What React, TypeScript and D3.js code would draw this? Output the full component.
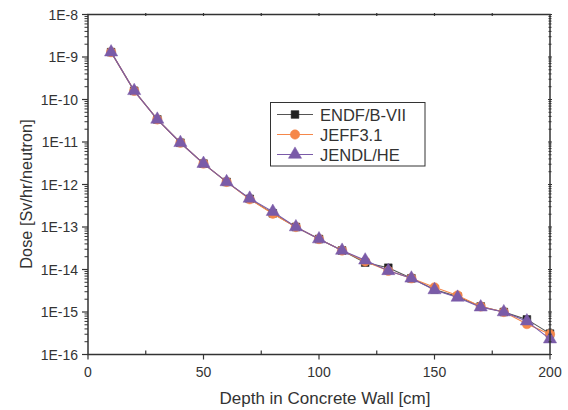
import React from 'react'
import { scaleLinear, scaleLog, line, symbol, symbolSquare, symbolCircle, symbolTriangle, range } from 'd3'

const depths = [10, 20, 30, 40, 50, 60, 70, 80, 90, 100, 110, 120, 130, 140, 150, 160, 170, 180, 190, 200]
const endf = [1.3e-9, 1.6e-10, 3.4e-11, 9.6e-12, 3.1e-12, 1.15e-12, 4.6e-13, 2.1e-13, 1.0e-13, 5.2e-14, 2.8e-14, 1.45e-14, 1.1e-14, 6.2e-15, 3.4e-15, 2.3e-15, 1.35e-15, 1.0e-15, 6.7e-16, 3.1e-16]
const jeff = [1.3e-9, 1.6e-10, 3.4e-11, 9.6e-12, 3.1e-12, 1.15e-12, 4.5e-13, 2.05e-13, 1.0e-13, 5.2e-14, 2.8e-14, 1.55e-14, 9.3e-15, 6.2e-15, 3.8e-15, 2.45e-15, 1.35e-15, 1.0e-15, 5.2e-16, 3.0e-16]
const jendl = [1.3e-9, 1.6e-10, 3.4e-11, 9.6e-12, 3.1e-12, 1.15e-12, 4.7e-13, 2.3e-13, 1.0e-13, 5.2e-14, 2.8e-14, 1.65e-14, 9.3e-15, 6.2e-15, 3.3e-15, 2.2e-15, 1.3e-15, 1.0e-15, 6.1e-16, 2.3e-16]

const xTicks = [0, 50, 100, 150, 200]
const yExponents = [-8, -9, -10, -11, -12, -13, -14, -15, -16]

const series = [
  { name: 'ENDF/B-VII', values: endf, line: '#555', fill: '#222', shape: symbolSquare, size: 60 },
  { name: 'JEFF3.1', values: jeff, line: '#f5874a', fill: '#f5874a', shape: symbolCircle, size: 70 },
  { name: 'JENDL/HE', values: jendl, line: '#7a5ba8', fill: '#7a5ba8', shape: symbolTriangle, size: 75 },
]

const font = 'Liberation Sans, Arial, Helvetica, sans-serif'
const axisColor = '#333'

export default function App() {
  const left = 88
  const right = 550
  const top = 14.5
  const bottom = 354.5
  const x = scaleLinear().domain([0, 200]).range([left, right])
  const y = scaleLog().domain([1e-16, 1e-8]).range([bottom, top])

  const minorY: number[] = []
  for (let e = -16; e < -8; e++) {
    for (let m = 2; m <= 9; m++) minorY.push(m * Math.pow(10, e))
  }
  const minorX = range(25, 200, 50)
  const topTicks = range(25, 200, 25)

  return (
    <svg width={568} height={410} style={{ position: 'absolute', left: 0, top: 0, background: '#fff' }}>
      <g fontFamily={font} fill="#333">
        {/* data */}
        {series.map(s => {
          const path = line<number>()
            .x((_, i) => x(depths[i]))
            .y(d => y(d))(s.values)
          return (
            <g key={s.name}>
              <path d={path || ''} fill="none" stroke={s.line} strokeWidth={1.1} />
              {s.values.map((v, i) => (
                <path
                  key={i}
                  d={symbol(s.shape, s.size)() || ''}
                  transform={`translate(${x(depths[i])},${y(v)})`}
                  fill={s.fill}
                  stroke={s.fill}
                  strokeWidth={0.5}
                />
              ))}
            </g>
          )
        })}

        {/* frame */}
        <rect x={left} y={top} width={right - left} height={bottom - top} fill="none" stroke={axisColor} strokeWidth={1.5} />

        {/* bottom axis */}
        {xTicks.map(t => (
          <g key={t}>
            <line x1={x(t)} x2={x(t)} y1={bottom} y2={bottom + 5} stroke={axisColor} strokeWidth={1.2} />
            <text x={x(t)} y={bottom + 22} textAnchor="middle" fontSize={14}>{t}</text>
          </g>
        ))}
        {minorX.map(t => (
          <line key={t} x1={x(t)} x2={x(t)} y1={bottom} y2={bottom - 4} stroke={axisColor} strokeWidth={1.2} />
        ))}
        {topTicks.map(t => (
          <line key={t} x1={x(t)} x2={x(t)} y1={top - 1.5} y2={top + 1.5} stroke={axisColor} strokeWidth={1.2} />
        ))}

        {/* left axis */}
        {yExponents.map(e => (
          <g key={e}>
            <line x1={left - 6} x2={left} y1={y(Math.pow(10, e))} y2={y(Math.pow(10, e))} stroke={axisColor} strokeWidth={1.2} />
            <text x={left - 10} y={y(Math.pow(10, e)) + 5} textAnchor="end" fontSize={14}>{`1E${e}`}</text>
            <line x1={right - 2} x2={right + 2} y1={y(Math.pow(10, e))} y2={y(Math.pow(10, e))} stroke={axisColor} strokeWidth={1} />
          </g>
        ))}
        {minorY.map((v, i) => (
          <g key={i}>
            <line x1={left - 3.5} x2={left} y1={y(v)} y2={y(v)} stroke={axisColor} strokeWidth={1} />
            <line x1={right - 1.5} x2={right + 1.5} y1={y(v)} y2={y(v)} stroke={axisColor} strokeWidth={1} />
          </g>
        ))}

        {/* axis titles */}
        <text x={(left + right) / 2 + 6} y={404} textAnchor="middle" fontSize={17}>Depth in Concrete Wall [cm]</text>
        <text transform="translate(32,194) rotate(-90)" textAnchor="middle" fontSize={16.3}>Dose [Sv/hr/neutron]</text>

        {/* legend */}
        <rect x={270.5} y={102.5} width={154.5} height={63.5} fill="#fff" stroke={axisColor} strokeWidth={1} />
        {series.map((s, i) => {
          const ly = 114.5 + i * 20
          return (
            <g key={s.name}>
              <line x1={277} x2={313} y1={ly} y2={ly} stroke={s.line} strokeWidth={1.1} />
              <path d={symbol(s.shape, s.size)() || ''} transform={`translate(295,${ly})`} fill={s.fill} stroke={s.fill} strokeWidth={0.5} />
              <text x={320} y={ly + 6} fontSize={16.5}>{s.name}</text>
            </g>
          )
        })}
      </g>
    </svg>
  )
}
